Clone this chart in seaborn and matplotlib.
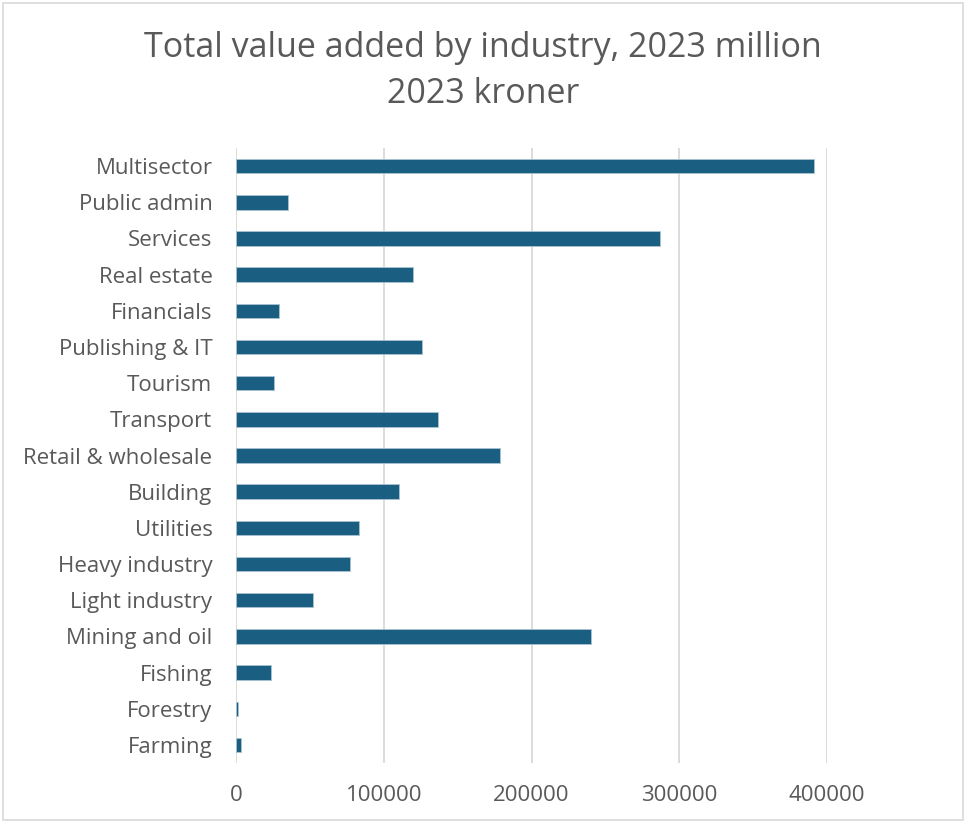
import pandas as pd
import seaborn as sns
import matplotlib.pyplot as plt
from matplotlib.patches import Rectangle

# Données (millions de couronnes 2023)
industries = ['Multisector', 'Public admin', 'Services', 'Real estate', 'Financials',
              'Publishing & IT', 'Tourism', 'Transport', 'Retail & wholesale', 'Building',
              'Utilities', 'Heavy industry', 'Light industry', 'Mining and oil', 'Fishing',
              'Forestry', 'Farming']
values = [391000, 35000, 287000, 120000, 29000,
          126000, 26000, 137000, 179000, 110000,
          83000, 77000, 52000, 240000, 24000,
          1500, 3200]
x_ticks = [0, 100000, 200000, 300000, 400000]

df = pd.DataFrame({'industry': industries, 'value': values})

sns.set_style('white')
plt.rcParams['font.family'] = ['Open Sans', 'DejaVu Sans']

text_color = '#595959'
bar_color = '#1a5f82'

fig = plt.figure(figsize=(9.66, 8.23), dpi=100)
ax = fig.add_axes([236 / 966, 1 - 763 / 823, (827 - 236) / 966, (763 - 148) / 823])

sns.barplot(data=df, x='value', y='industry', orient='h', color=bar_color,
            width=0.4, ax=ax, saturation=1, edgecolor='#a9c4d3', linewidth=0.6)

ax.set_xlim(0, 400000)
ax.set_xticks(x_ticks)
ax.set_xticklabels([str(t) for t in x_ticks])
ax.xaxis.grid(True, color='#d9d9d9', linewidth=1.3)
ax.set_axisbelow(True)
for s in ax.spines.values():
    s.set_visible(False)
ax.set_xlabel('')
ax.set_ylabel('')
ax.tick_params(axis='both', length=0, labelcolor=text_color, labelsize=16)
ax.tick_params(axis='y', pad=17)
ax.tick_params(axis='x', pad=16)

fig.text(0.5, 1 - 48 / 823, 'Total value added by industry, 2023 million',
         ha='center', va='center', fontsize=24.5, color=text_color)
fig.text(0.5, 1 - 94 / 823, '2023 kroner',
         ha='center', va='center', fontsize=24.5, color=text_color)

# Bordure du graphique
fig.patches.append(Rectangle((3 / 966, 3 / 823), 960 / 966, 817 / 823,
                             transform=fig.transFigure, fill=False,
                             edgecolor='#d9d9d9', linewidth=1.2))

plt.savefig('out.png', dpi=100)
